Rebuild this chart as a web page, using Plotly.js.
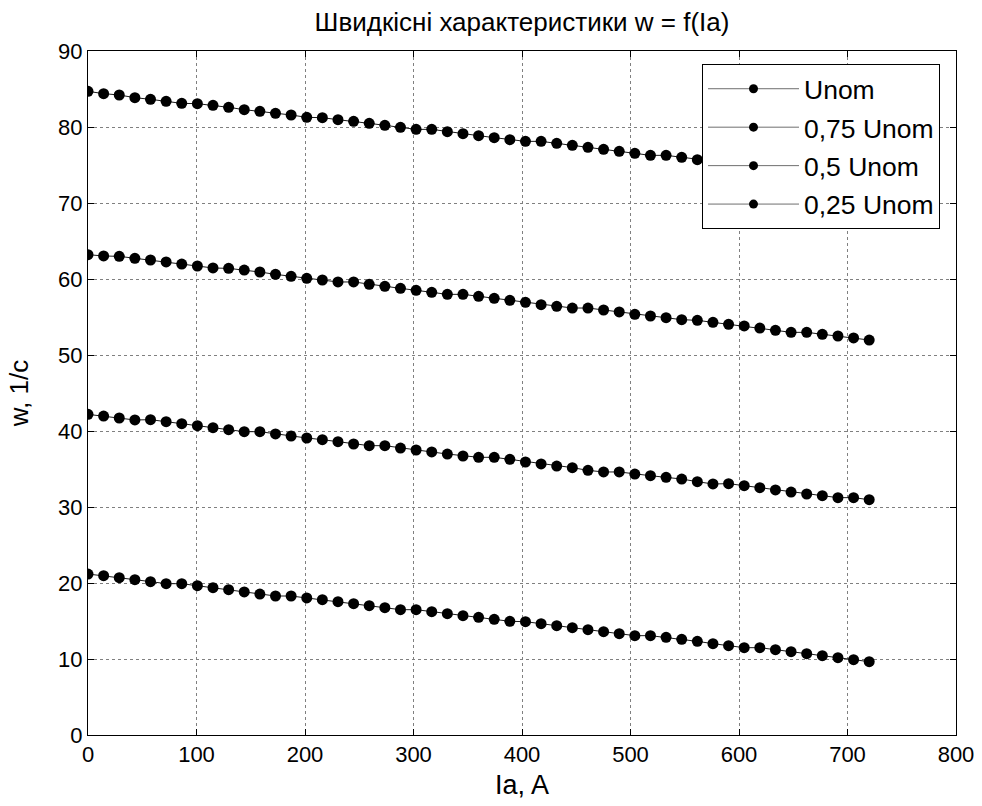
<!DOCTYPE html>
<html>
<head>
<meta charset="utf-8">
<script src="https://cdn.plot.ly/plotly-3.0.1.min.js"></script>
<style>html,body{margin:0;padding:0;background:#fff;}#chart{width:982px;height:806px;}</style>
</head>
<body>
<div id="chart"></div>
<script>
const Ia = [0, 14.4, 28.8, 43.2, 57.6, 72, 86.4, 100.8, 115.2, 129.6, 144, 158.4, 172.8, 187.2, 201.6, 216, 230.4, 244.8, 259.2, 273.6, 288, 302.4, 316.8, 331.2, 345.6, 360, 374.4, 388.8, 403.2, 417.6, 432, 446.4, 460.8, 475.2, 489.6, 504, 518.4, 532.8, 547.2, 561.6, 576, 590.4, 604.8, 619.2, 633.6, 648, 662.4, 676.8, 691.2, 705.6, 720];

const wUnom = [84.69, 84.39, 84.21, 83.86, 83.64, 83.38, 83.11, 83.07, 82.85, 82.59, 82.28, 82.06, 81.80, 81.58, 81.27, 81.23, 80.96, 80.75, 80.48, 80.22, 79.96, 79.69, 79.69, 79.39, 79.12, 78.86, 78.60, 78.33, 78.11, 78.11, 77.85, 77.59, 77.32, 77.06, 76.80, 76.54, 76.27, 76.27, 76.01, 75.70, 75.47, 75.24, 75.01, 74.78, 74.55, 74.32, 74.09, 73.86, 73.63, 73.40, 73.17];

const w075 = [63.20, 63.03, 62.98, 62.72, 62.50, 62.24, 61.97, 61.71, 61.45, 61.40, 61.18, 60.92, 60.61, 60.35, 60.09, 59.87, 59.61, 59.61, 59.30, 59.04, 58.77, 58.51, 58.25, 57.98, 57.98, 57.72, 57.46, 57.19, 56.93, 56.62, 56.40, 56.18, 56.18, 55.92, 55.66, 55.35, 55.13, 54.91, 54.65, 54.56, 54.30, 54.04, 53.82, 53.55, 53.25, 52.98, 52.98, 52.72, 52.50, 52.24, 51.97];

const w050 = [42.19, 41.97, 41.71, 41.45, 41.49, 41.23, 40.96, 40.70, 40.44, 40.18, 39.91, 39.91, 39.61, 39.34, 39.08, 38.86, 38.60, 38.29, 38.07, 38.07, 37.76, 37.50, 37.24, 36.97, 36.71, 36.54, 36.54, 36.27, 35.92, 35.66, 35.39, 35.18, 34.82, 34.61, 34.61, 34.34, 34.12, 33.90, 33.68, 33.33, 33.03, 33.07, 32.81, 32.54, 32.24, 31.97, 31.71, 31.49, 31.23, 31.23, 30.96];

const w025 = [21.18, 20.96, 20.70, 20.44, 20.18, 19.91, 19.91, 19.65, 19.39, 19.12, 18.82, 18.55, 18.29, 18.29, 18.03, 17.81, 17.54, 17.28, 17.02, 16.75, 16.49, 16.49, 16.23, 15.96, 15.70, 15.48, 15.22, 14.96, 14.91, 14.65, 14.39, 14.12, 13.86, 13.60, 13.33, 13.07, 13.07, 12.85, 12.59, 12.32, 12.02, 11.75, 11.49, 11.49, 11.23, 10.96, 10.70, 10.44, 10.18, 9.91, 9.65];

const seriesNames = ['Unom', '0,75 Unom', '0,5 Unom', '0,25 Unom'];
const seriesValues = [wUnom, w075, w050, w025];

const FONT = '"Liberation Sans", Arial, sans-serif';

// data traces (legend entries drawn by matching legend-only traces with smaller markers)
const traces = seriesValues.map((vals, i) => ({
  x: Ia,
  y: vals,
  name: seriesNames[i],
  type: 'scatter',
  mode: 'lines+markers',
  showlegend: false,
  line: {color: '#1a1a1a', width: 1},
  marker: {color: '#000', size: 11, symbol: 'circle'}
}));
const legendTraces = seriesNames.map((nm, i) => ({
  x: [null],
  y: [null],
  name: nm,
  type: 'scatter',
  mode: 'lines+markers',
  legendgroup: 'g' + i,
  showlegend: true,
  line: {color: '#6e6e6e', width: 1},
  marker: {color: '#000', size: 9, symbol: 'circle'}
}));

const axisCommon = {
  showgrid: true,
  gridcolor: '#808080',
  griddash: 'dot',
  gridwidth: 1,
  zeroline: false,
  showline: true,
  linecolor: '#000',
  linewidth: 1,
  mirror: 'ticks',
  ticks: 'inside',
  ticklen: 6,
  tickcolor: '#000',
  tickfont: {family: FONT, size: 22, color: '#000'}
};

const layout = {
  width: 982,
  height: 806,
  margin: {l: 88, r: 26, t: 51, b: 71},
  paper_bgcolor: '#fff',
  plot_bgcolor: '#fff',
  font: {family: FONT, color: '#000', size: 22},
  title: {
    text: 'Швидкісні характеристики w = f(Ia)',
    font: {family: FONT, size: 26, color: '#000'},
    x: 0.5, xref: 'paper', xanchor: 'center',
    y: 1 - 22 / 806, yref: 'container', yanchor: 'middle'
  },
  xaxis: Object.assign({}, axisCommon, {
    range: [0, 800], dtick: 100, tick0: 0,
    title: {text: 'Ia, A', font: {family: FONT, size: 27, color: '#000'}, standoff: 8}
  }),
  yaxis: Object.assign({}, axisCommon, {
    range: [0, 90], dtick: 10, tick0: 0,
    title: {text: 'w, 1/c', font: {family: FONT, size: 26, color: '#000'}, standoff: 22}
  }),
  showlegend: true,
  legend: {
    x: (702 - 88) / 868,
    y: (735 - 64) / 684,
    xanchor: 'left',
    yanchor: 'top',
    bgcolor: '#fff',
    bordercolor: '#000',
    borderwidth: 1,
    font: {family: FONT, size: 26.5, color: '#000'},
    traceorder: 'grouped',
    tracegroupgap: 1,
    itemwidth: 91
  }
};

Plotly.newPlot('chart', traces.concat(legendTraces), layout, {displayModeBar: false, staticPlot: true});
</script>
</body>
</html>
